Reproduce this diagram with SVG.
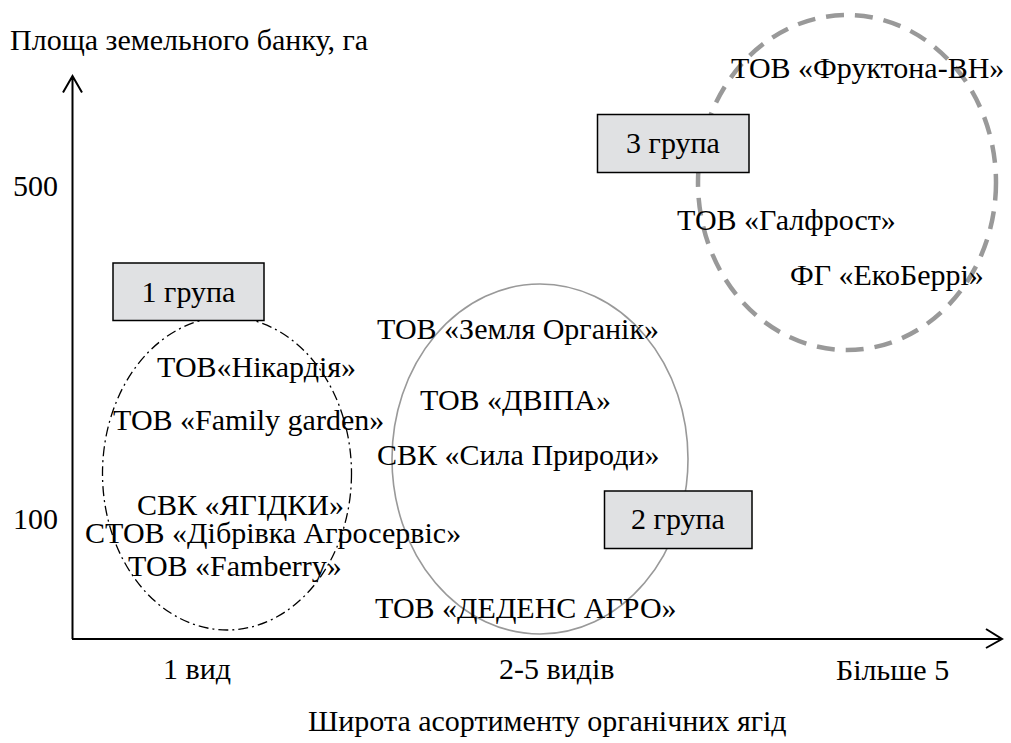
<svg xmlns="http://www.w3.org/2000/svg" width="1011" height="743" viewBox="0 0 1011 743" font-family="'Liberation Serif', 'Times New Roman', serif" font-size="30">
<style>
.box{fill:#e0e1e3;stroke:#000;stroke-width:1.5}
.axis{stroke:#000;stroke-width:2;fill:none}
</style>
<rect width="1011" height="743" fill="#fff"/>
<g id="axes">
<path class="axis" d="M72.5,639 V76 M63,92.5 L72.5,76 L82,92.5"/>
<path class="axis" d="M72,639 H1002 M986,629 L1002,639 L986,648"/>
<text x="10" y="50">Площа земельного банку, га</text>
<text x="13" y="196">500</text>
<text x="13" y="529">100</text>
<text x="163" y="679">1 вид</text>
<text x="499" y="679">2-5 видів</text>
<text x="836" y="680">Більше 5</text>
<text x="308" y="731">Широта асортименту органічних ягід</text>
</g>
<g id="connectors">
<ellipse cx="227" cy="473.5" rx="124.5" ry="156.5" fill="none" stroke="#000" stroke-width="1.3" stroke-dasharray="10,4,2,4"/>
<ellipse cx="540" cy="459" rx="148" ry="175" fill="none" stroke="#999" stroke-width="1.6"/>
<ellipse cx="847" cy="182.5" rx="149" ry="167.5" fill="none" stroke="#999" stroke-width="4.5" stroke-dasharray="18,11"/>
</g>
<g id="group1">
<rect class="box" x="113" y="263" width="151" height="57.5"/>
<text x="188.5" y="301.5" text-anchor="middle">1 група</text>
</g>
<g id="group2">
<rect class="box" x="604.5" y="491" width="147.5" height="57.5"/>
<text x="678" y="528.5" text-anchor="middle">2 група</text>
</g>
<g id="group3">
<rect class="box" x="597.5" y="114.5" width="151.5" height="58"/>
<text x="673" y="153" text-anchor="middle">3 група</text>
</g>
<g id="companies">
<text x="731" y="78">ТОВ «Фруктона-ВН»</text>
<text x="677" y="230">ТОВ «Галфрост»</text>
<text x="790" y="285">ФГ «ЕкоБеррі»</text>
<text x="377" y="339">ТОВ «Земля Органік»</text>
<text x="420" y="410">ТОВ «ДВІПА»</text>
<text x="377" y="465">СВК «Сила Природи»</text>
<text x="375" y="618">ТОВ «ДЕДЕНС АГРО»</text>
<text x="157" y="377">ТОВ«Нікардія»</text>
<text x="113" y="430">ТОВ «Family garden»</text>
<text x="137" y="515">СВК «ЯГІДКИ»</text>
<text x="85" y="543">СТОВ «Дібрівка Агросервіс»</text>
<text x="128" y="576">ТОВ «Famberry»</text>
</g>
</svg>
